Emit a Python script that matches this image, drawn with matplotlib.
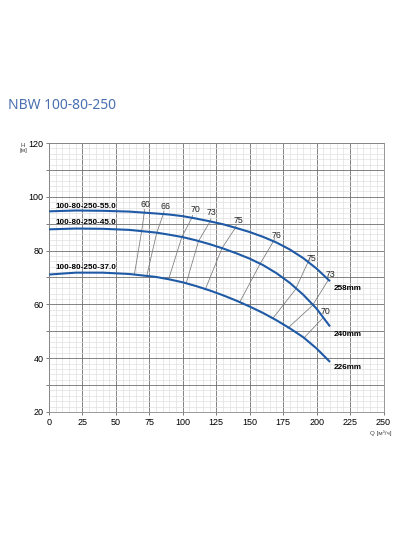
import numpy as np
import matplotlib
matplotlib.use("Agg")
import matplotlib.pyplot as plt
from matplotlib.ticker import MultipleLocator

plt.rcParams['font.family'] = ['Liberation Sans', 'DejaVu Sans']

# pump curves
q_pts = [0, 20, 40, 60, 80, 90, 100, 110, 120, 130, 140, 150, 160, 170, 180, 190, 200, 210]
h_258 = [94.6, 94.9, 94.8, 94.5, 93.8, 93.4, 92.8, 91.9, 90.9, 89.8, 88.4, 86.9, 85.1, 83.0, 80.4, 77.2, 73.3, 68.6]
h_240 = [87.9, 88.2, 88.1, 87.7, 86.7, 85.9, 85.0, 83.8, 82.4, 80.8, 79.0, 77.0, 74.6, 71.6, 68.0, 63.6, 58.4, 51.8]
h_226 = [71.1, 71.8, 71.8, 71.3, 70.2, 69.3, 68.2, 66.8, 65.2, 63.4, 61.4, 59.2, 56.8, 54.1, 51.1, 47.8, 43.6, 38.6]
curve_names = ["100-80-250-55.0", "100-80-250-45.0", "100-80-250-37.0"]
curve_name_h = [96.4, 90.3, 73.6]
diam_labels = ["258mm", "240mm", "226mm"]
diam_label_h = [65.8, 48.9, 36.4]

# efficiency lines (points where they cross the curves)
eff_labels = ["60", "66", "70", "73", "75", "76", "75", "73", "70"]
eff_q = [[71.5, 71.3, 69.3, 63.8], [86.0, 85.5, 80.5, 73.1], [107.3, 106.8, 99.3, 89.3],
         [121.0, 120.5, 111.8, 102.5], [139.8, 139.2, 129.3, 116.8], [168.5, 167.9, 157.9, 142.7],
         [194.1, 184.1, 167.3], [209.0, 196.9, 178.5], [204.7, 190.3]]
eff_h = [[95.3, 94.5, 87.4, 71.1], [94.7, 93.7, 86.6, 70.7], [93.1, 92.2, 85.1, 69.2],
         [91.8, 90.9, 83.6, 67.8], [89.3, 88.4, 80.9, 65.6], [84.5, 83.6, 75.2, 61.0],
         [76.3, 65.5, 54.8], [69.3, 59.6, 51.2], [55.0, 47.4]]
eff_lab_q = [71.8, 86.8, 109.2, 121.7, 141.7, 170.3, 196.5, 210.2, 206.4]
eff_lab_h = [97.0, 96.4, 95.3, 94.2, 91.2, 85.6, 77.2, 71.1, 57.4]

fig = plt.figure(figsize=(4, 5.34), dpi=100)
ax = fig.add_axes([0.1225, 0.2285, 0.8363, 0.5037])

blue = "#1f5aa6"
for h in [h_258, h_240, h_226]:
    ax.plot(q_pts, h, color=blue, lw=1.5, solid_capstyle='butt', zorder=4)

for q, h in zip(eff_q, eff_h):
    ax.plot(q, h, color="#7a7a7a", lw=0.55, zorder=3)
for lab, q, h in zip(eff_labels, eff_lab_q, eff_lab_h):
    ax.text(q, h, lab, fontsize=6.3, ha='center', va='center', color="#222222", zorder=5)

for name, h in zip(curve_names, curve_name_h):
    ax.text(4.5, h, name, fontsize=5.9, fontweight='bold', ha='left', va='center', zorder=5)
for name, h in zip(diam_labels, diam_label_h):
    ax.text(212.5, h, name, fontsize=5.9, fontweight='bold', ha='left', va='center', zorder=5)

ax.set_xlim(0, 250)
ax.set_ylim(20, 120)
ax.xaxis.set_major_locator(MultipleLocator(25))
ax.xaxis.set_minor_locator(MultipleLocator(5))
ax.yaxis.set_major_locator(MultipleLocator(10))
ax.yaxis.set_minor_locator(MultipleLocator(2))
ax.grid(which='major', color="#6e6e6e", lw=0.6)
ax.grid(which='minor', color="#e0e0e0", lw=0.5)
ax.set_axisbelow(True)
ax.set_yticks([20, 30, 40, 50, 60, 70, 80, 90, 100, 110, 120])
ax.set_yticklabels(["20", "", "40", "", "60", "", "80", "", "100", "", "120"])
ax.tick_params(which='major', labelsize=6.5, length=2.5, width=0.6, color="#666666", pad=1.5)
ax.tick_params(which='minor', length=0)
for s in ax.spines.values():
    s.set_color("#888888")
    s.set_linewidth(0.6)

fig.text(0.02, 0.803, "NBW 100-80-250", fontsize=10, color="#4a6fb0",
         family=['Noto Sans', 'DejaVu Sans'], va='center', ha='left')
fig.text(0.058, 0.722, "H\n[м]", fontsize=4.5, ha='center', va='center', color="#444444", linespacing=1.0)
fig.text(0.98, 0.189, "Q [м³/ч]", fontsize=4.5, ha='right', va='center', color="#444444")

fig.savefig("out.png", dpi=100)
